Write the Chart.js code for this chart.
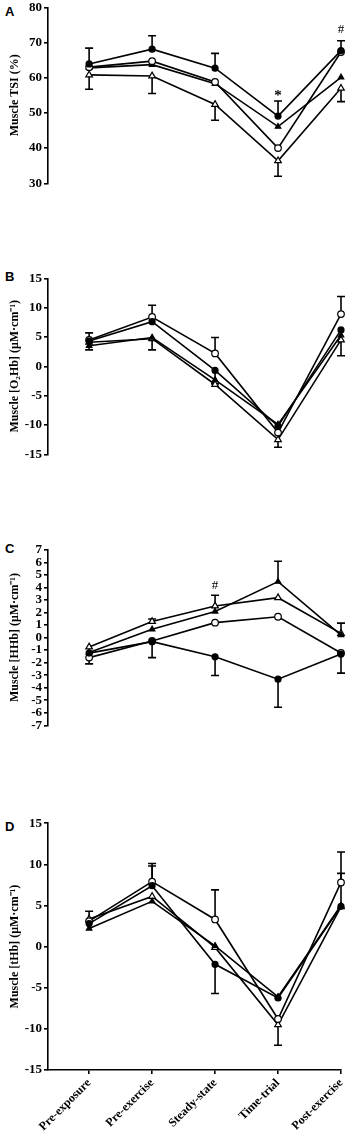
<!DOCTYPE html>
<html><head><meta charset="utf-8">
<script src="https://cdn.jsdelivr.net/npm/chart.js@4.4.1/dist/chart.umd.min.js"></script>
<style>
html,body{margin:0;padding:0;background:#fff;width:348px;height:1140px;overflow:hidden;position:relative}
canvas{position:absolute;left:0}
.lbl{position:absolute;left:5px;font:bold 13px/13px "Liberation Sans",Arial,sans-serif;color:#000}
</style></head><body>
<div class="lbl" style="top:5px">A</div>
<div class="lbl" style="top:270px">B</div>
<div class="lbl" style="top:542px">C</div>
<div class="lbl" style="top:820px">D</div>
<canvas id="cA" width="348" height="270" style="top:0px"></canvas>
<canvas id="cB" width="348" height="275" style="top:270px"></canvas>
<canvas id="cC" width="348" height="265" style="top:540px"></canvas>
<canvas id="cD" width="348" height="335" style="top:805px"></canvas>
<script>
const categories = ['Pre-exposure','Pre-exercise','Steady-state','Time-trial','Post-exercise'];

// Panel A: Muscle TSI (%)
const tsiFilledCircle   = [63.9, 68.1, 62.7, 49.1, 67.7];
const tsiOpenCircle     = [63.0, 64.7, 58.8, 40.0, 67.3];
const tsiFilledTriangle = [62.8, 63.7, 58.3, 46.1, 60.1];
const tsiOpenTriangle   = [60.8, 60.5, 52.4, 36.4, 57.0];
// signed SEM bars (+ up, - down)
const tsiFilledCircleErr = [4.5, 3.8, 4.2, 4.3, 2.8];
const tsiOpenTriangleErr = [-4.1, -5.0, -4.5, -4.4, -3.8];

// Panel B: Muscle [O2Hb]
const o2FilledCircle   = [4.3, 7.6, -0.7, -10.2, 6.2];
const o2OpenCircle     = [4.5, 8.4, 2.2, -11.3, 8.9];
const o2FilledTriangle = [3.5, 4.9, -2.3, -9.9, 5.3];
const o2OpenTriangle   = [4.1, 4.7, -3.1, -12.5, 4.5];
const o2OpenCircleErr   = [1.2, 2.0, 2.7, null, 3.0];
const o2FilledCircleErr = [null, null, -2.3, null, null];
const o2OpenTriangleErr = [-1.3, -1.9, null, -1.3, -2.7];

// Panel C: Muscle [HHb]
const hhFilledCircle   = [-1.24, -0.33, -1.53, -3.32, -1.32];
const hhOpenCircle     = [-1.6, -0.27, 1.19, 1.66, -1.23];
const hhFilledTriangle = [-1.2, 0.66, 2.08, 4.46, 0.2];
const hhOpenTriangle   = [-0.75, 1.28, 2.52, 3.18, 0.33];
const hhFilledCircleErr   = [-0.86, -1.27, -1.5, -2.24, -1.52];
const hhFilledTriangleErr = [null, null, null, 1.63, null];
const hhOpenTriangleErr   = [null, 0.2, 0.85, null, 0.82];

// Panel D: Muscle [tHb]
const thFilledCircle   = [2.8, 7.4, -2.15, -6.25, 4.9];
const thOpenCircle     = [3.1, 7.9, 3.3, -8.8, 7.8];
const thFilledTriangle = [2.2, 5.5, 0.1, -6.1, 5.0];
const thOpenTriangle   = [3.35, 6.1, -0.1, -9.5, 4.85];
const thOpenCircleErr   = [null, 2.2, 3.6, null, 3.7];
const thFilledCircleErr = [null, 2.4, -3.55, null, 4.0];
const thOpenTriangleErr = [0.95, null, null, -2.5, null];

// significance marks [category index, y value, text]
const notesA = [[3, 55.7, '*'], [4, 73.7, '#']];
const notesC = [[2, 4.17, '#']];

const SERIF = '"Liberation Serif","Times New Roman",serif';

function series(values, err, filled, shape){
  return {
    data: values.map((v,i)=>({x:i, y:v})),
    err: err,
    borderColor:'#000', borderWidth:1.6,
    pointStyle: shape,
    pointRadius: shape==='circle' ? (filled?3:3.3) : (filled?3.2:3.8),
    pointBorderWidth: 1.2,
    pointBorderColor:'#000',
    pointBackgroundColor: filled ? '#000' : '#fff',
    tension:0, clip:false, fill:false
  };
}

const errPlugin = {
  id:'errbars',
  beforeDatasetsDraw(chart){
    const ctx = chart.ctx, xs = chart.scales.x, ys = chart.scales.y;
    ctx.save(); ctx.strokeStyle='#000'; ctx.lineWidth=1.6;
    chart.data.datasets.forEach(ds=>{
      if(!ds.err) return;
      ds.err.forEach((e,i)=>{
        if(e===null||e===undefined) return;
        const px = xs.getPixelForValue(i);
        const y0 = ys.getPixelForValue(ds.data[i].y);
        const y1 = ys.getPixelForValue(ds.data[i].y + e);
        ctx.beginPath();
        ctx.moveTo(px,y0); ctx.lineTo(px,y1);
        ctx.moveTo(px-4,y1); ctx.lineTo(px+4,y1);
        ctx.stroke();
      });
    });
    ctx.restore();
  },
  afterDraw(chart){
    const notes = chart.options.plugins.errbars && chart.options.plugins.errbars.notes;
    if(!notes) return;
    const ctx = chart.ctx, xs = chart.scales.x, ys = chart.scales.y;
    ctx.save(); ctx.fillStyle='#000'; ctx.textAlign='center'; ctx.textBaseline='middle';
    notes.forEach(n=>{
      ctx.font = (n[2]==='*' ? 'bold 15px ' : '13px ') + SERIF;
      ctx.fillText(n[2], xs.getPixelForValue(n[0]), ys.getPixelForValue(n[1]) + (n[2]==='*'?3:0));
    });
    ctx.restore();
  }
};

function makePanel(id, datasets, yMin, yMax, step, title, padTop, padBottom, showX, notes){
  new Chart(document.getElementById(id), {
    type:'line',
    data:{datasets},
    plugins:[errPlugin],
    options:{
      responsive:false, animation:false, devicePixelRatio:1,
      layout:{autoPadding:false, padding:{left:0, right:7, top:padTop, bottom:padBottom}},
      plugins:{legend:{display:false}, tooltip:{enabled:false}, errbars:{notes}},
      scales:{
        x:{
          type:'linear', min:-0.653, max:4.0, display:showX,
          afterBuildTicks(s){ s.ticks = categories.map((c,i)=>({value:i})); },
          afterFit(s){ s.height = 70; s.paddingLeft = 0; s.paddingRight = 0; },
          border:{display:true, color:'#000', width:1.6},
          grid:{display:true, drawOnChartArea:false, drawTicks:true, tickLength:4, color:'#000', lineWidth:1.6},
          ticks:{autoSkip:false, maxRotation:45, minRotation:45, padding:2, color:'#000',
                 font:{family:SERIF, size:12, weight:'bold'},
                 callback:(v)=>categories[v]}
        },
        y:{
          min:yMin, max:yMax,
          afterFit(s){ s.width = 48; s.paddingTop = 0; s.paddingBottom = 0; },
          border:{display:true, color:'#000', width:1.6},
          grid:{display:true, drawOnChartArea:false, drawTicks:true, tickLength:4, color:'#000', lineWidth:1.6},
          ticks:{stepSize:step, autoSkip:false, padding:2, color:'#000', font:{family:SERIF, size:13, weight:'bold'}},
          title:{display:true, text:title, color:'#000', padding:{top:8, bottom:0},
                 font:{family:SERIF, size:12, weight:'bold'}}
        }
      }
    }
  });
}

makePanel('cA', [
  series(tsiFilledCircle, tsiFilledCircleErr, true, 'circle'),
  series(tsiOpenCircle, null, false, 'circle'),
  series(tsiFilledTriangle, null, true, 'triangle'),
  series(tsiOpenTriangle, tsiOpenTriangleErr, false, 'triangle')
], 30, 80, 10, 'Muscle TSI (%)', 7.3, 16.7, false, notesA);

makePanel('cB', [
  series(o2FilledCircle, o2FilledCircleErr, true, 'circle'),
  series(o2OpenCircle, o2OpenCircleErr, false, 'circle'),
  series(o2FilledTriangle, null, true, 'triangle'),
  series(o2OpenTriangle, o2OpenTriangleErr, false, 'triangle')
], -15, 15, 5, 'Muscle [O₂Hb] (μM·cm⁻¹)', 8.3, 20.7, false, null);

makePanel('cC', [
  series(hhFilledCircle, hhFilledCircleErr, true, 'circle'),
  series(hhOpenCircle, null, false, 'circle'),
  series(hhFilledTriangle, hhFilledTriangleErr, true, 'triangle'),
  series(hhOpenTriangle, hhOpenTriangleErr, false, 'triangle')
], -7, 7, 1, 'Muscle [HHb] (μM·cm⁻¹)', 9.8, 9.7, false, notesC);

makePanel('cD', [
  series(thFilledCircle, thFilledCircleErr, true, 'circle'),
  series(thOpenCircle, thOpenCircleErr, false, 'circle'),
  series(thFilledTriangle, null, true, 'triangle'),
  series(thOpenTriangle, thOpenTriangleErr, false, 'triangle')
], -15, 15, 5, 'Muscle [tHb] (μM·cm⁻¹)', 18.2, 0, true, null);
</script>
</body></html>
